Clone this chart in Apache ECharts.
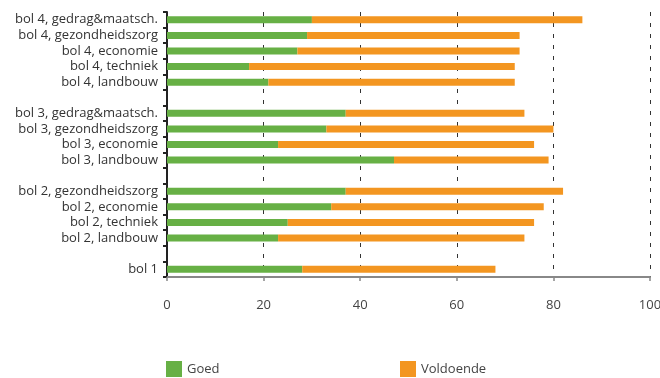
<!DOCTYPE html>
<html><head><meta charset="utf-8">
<script src="https://cdn.jsdelivr.net/npm/echarts@6/dist/echarts.min.js"></script>
<style>html,body{margin:0;padding:0;background:#fff}#c{width:660px;height:378px}</style>
</head><body><div id="c"></div>
<script>
const categories = [
  'bol 4, gedrag&maatsch.', 'bol 4, gezondheidszorg', 'bol 4, economie', 'bol 4, techniek', 'bol 4, landbouw',
  ' ',
  'bol 3, gedrag&maatsch.', 'bol 3, gezondheidszorg', 'bol 3, economie', 'bol 3, landbouw',
  '  ',
  'bol 2, gezondheidszorg', 'bol 2, economie', 'bol 2, techniek', 'bol 2, landbouw',
  '   ',
  'bol 1'
];
const goed = [30, 29, 27, 17, 21, null, 37, 33, 23, 47, null, 37, 34, 25, 23, null, 28];
const voldoende = [56, 44, 46, 55, 51, null, 37, 47, 53, 32, null, 45, 44, 51, 51, null, 40];
const xTicks = [0, 20, 40, 60, 80, 100];
const seriesNames = ['Goed', 'Voldoende'];

const FONT = 'Open Sans';
const chart = echarts.init(document.getElementById('c'), null, {renderer: 'canvas'});
chart.setOption({
  animation: false,
  textStyle: {fontFamily: FONT},
  color: ['#67b045', '#f39621'],
  grid: {left: 167, right: 10, top: 12, bottom: 101, containLabel: false, outerBoundsMode: 'none'},
  legend: [
    {data: [seriesNames[0]], left: 166, top: 361, padding: 0, itemWidth: 16, itemHeight: 16, itemGap: 0,
     icon: 'rect', textStyle: {fontSize: 13, color: '#444', fontFamily: FONT}},
    {data: [seriesNames[1]], left: 400, top: 361, padding: 0, itemWidth: 16, itemHeight: 16, itemGap: 0,
     icon: 'rect', textStyle: {fontSize: 13, color: '#444', fontFamily: FONT}}
  ],
  xAxis: {
    type: 'value', min: xTicks[0], max: xTicks[xTicks.length - 1], interval: 20,
    axisLine: {show: true, lineStyle: {color: '#888', width: 2}},
    axisTick: {show: true, length: 4, lineStyle: {color: '#888', width: 1.5}},
    axisLabel: {margin: 22, fontSize: 13, color: '#444', fontFamily: FONT},
    splitLine: {show: true, lineStyle: {color: '#333', width: 1, type: [4, 7]}}
  },
  yAxis: {
    type: 'category', data: categories, inverse: true,
    axisLine: {show: true, lineStyle: {color: '#222', width: 2}},
    axisTick: {show: true, length: 4, lineStyle: {color: '#222', width: 2}},
    axisLabel: {margin: 9, fontSize: 13, color: '#333', fontFamily: FONT, interval: 0}
  },
  series: [
    {name: seriesNames[0], type: 'bar', stack: 't', data: goed, barWidth: 7},
    {name: seriesNames[1], type: 'bar', stack: 't', data: voldoende, barWidth: 7}
  ]
});
</script></body></html>
